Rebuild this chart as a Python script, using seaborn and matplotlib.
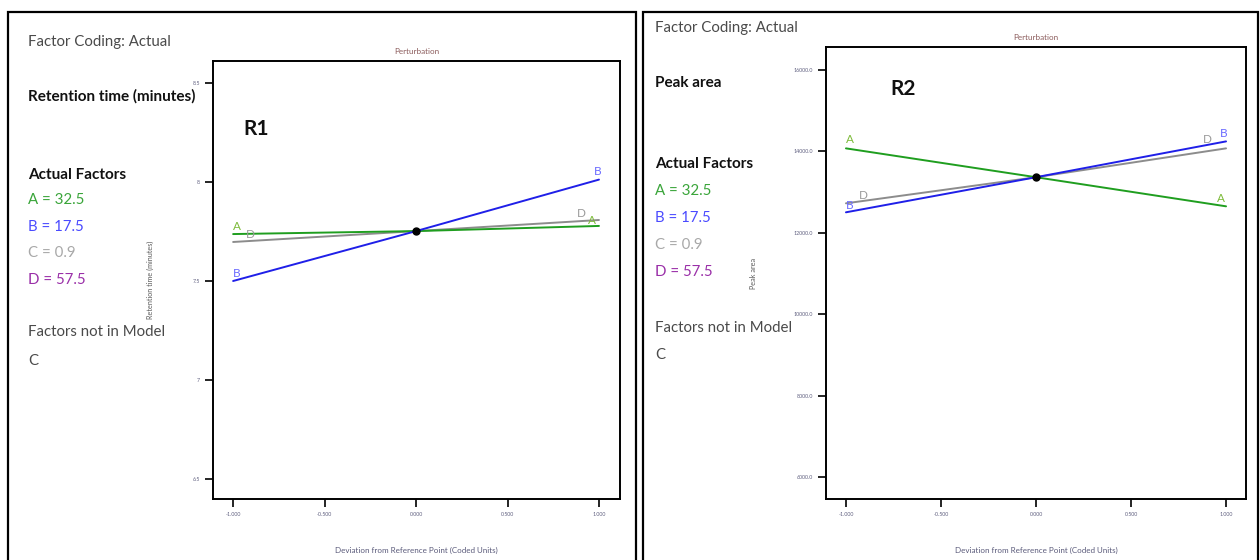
import matplotlib
matplotlib.use("Agg")
import matplotlib.pyplot as plt
import seaborn as sns
import pandas as pd
from matplotlib.patches import Rectangle

# ---- data ----
x_dev = [-1.0, 0.0, 1.0]
r1_A = [7.737, 7.752, 7.778]
r1_B = [7.500, 7.752, 8.012]
r1_D = [7.697, 7.752, 7.808]
r2_A = [14074, 13365, 12650]
r2_B = [12503, 13365, 14245]
r2_D = [12724, 13365, 14074]
xticks = [-1.0, -0.5, 0.0, 0.5, 1.0]
xticklabels = ["-1.000", "-0.500", "0.000", "0.500", "1.000"]
r1_yticks = [6.5, 7.0, 7.5, 8.0, 8.5]
r1_yticklabels = ["6.5", "7", "7.5", "8", "8.5"]
r2_yticks = [6000, 8000, 10000, 12000, 14000, 16000]
r2_yticklabels = ["6000.0", "8000.0", "10000.0", "12000.0", "14000.0", "16000.0"]
factor_labels = ["A = 32.5", "B = 17.5", "C = 0.9", "D = 57.5"]

sns.set_theme(style="white")
plt.rcParams['font.family'] = ['Lato', 'DejaVu Sans']

W, H = 1260, 560
fig = plt.figure(figsize=(12.6, 5.6), dpi=100)

def fx(x): return x / W
def fy(y): return 1 - y / H

# panel borders
for (x0, x1) in [(8, 636), (643, 1258)]:
    fig.patches.append(Rectangle((fx(x0), fy(575)), fx(x1 - x0), (575 - 12) / H,
                                 transform=fig.transFigure, fill=False,
                                 edgecolor="black", lw=1.6))

line_col = {"A": "#1f9e1f", "B": "#1f1fe8", "D": "#8c8c8c"}
lab_col = {"A": "#7dbb3a", "B": "#6a6aff", "D": "#9a9a9a"}
legend_cols = ["#3aa53a", "#4a4aff", "#a8a8a8", "#9a2fa8"]
txt_col = "#4a4a4a"

def make_panel(ax_box, xlim, ylim, A, B, D, yticks, yticklabels, ylabel,
               ylabelpad, side_texts, tag, tag_xy, lbls):
    l, t, r, b = ax_box
    ax = fig.add_axes([fx(l), fy(b), fx(r - l), (b - t) / H])
    df = pd.DataFrame({"x": x_dev * 3, "y": D + A + B,
                       "f": ["D"] * 3 + ["A"] * 3 + ["B"] * 3})
    sns.lineplot(data=df, x="x", y="y", hue="f", palette=line_col, ax=ax,
                 legend=False, lw=1.4, sort=False)
    ax.plot([0], [A[1]], marker="o", color="black", ms=5, zorder=5)
    ax.set_xlim(*xlim)
    ax.set_ylim(*ylim)
    ax.set_xticks(xticks)
    ax.set_xticklabels(xticklabels)
    ax.set_yticks(yticks)
    ax.set_yticklabels(yticklabels)
    ax.tick_params(axis="both", labelsize=3.8, length=6, width=1.2,
                   colors="black", labelcolor="#606080", direction="out",
                   bottom=True, left=True)
    for s in ax.spines.values():
        s.set_color("black"); s.set_linewidth(1.4)
    ax.set_xlabel("Deviation from Reference Point (Coded Units)", fontsize=5.8,
                  color="#5a5a7a", labelpad=21)
    ax.set_ylabel(ylabel, fontsize=5.2, color="#5a5a5a", labelpad=ylabelpad)
    ax.set_title("Perturbation", fontsize=5.8, color="#8a5a5a", pad=5)
    for (txt, xv, yv, c, ha, va) in lbls:
        ax.text(xv, yv, txt, color=lab_col[c], fontsize=8.5, ha=ha, va=va)
    fig.text(fx(tag_xy[0]), fy(tag_xy[1]), tag, fontsize=15, fontweight="bold",
             color="#111111", ha="left", va="center")
    for (txt, xx, yy, c, bold) in side_texts:
        fig.text(fx(xx), fy(yy), txt, fontsize=11 if bold else 10.8, color=c,
                 fontweight="bold" if bold else "normal", ha="left", va="center")
    return ax

side1 = [("Factor Coding: Actual", 28, 42, txt_col, False),
         ("Retention time (minutes)", 28, 96, "#111111", True),
         ("Actual Factors", 28, 175, "#111111", True)]
for i, (lab, yy) in enumerate(zip(factor_labels, [200, 227, 253, 280])):
    side1.append((lab, 28, yy, legend_cols[i], False))
side1 += [("Factors not in Model", 28, 332, txt_col, False), ("C", 28, 361, txt_col, False)]

lbl1 = [("A", -1.0, 7.745, "A", "left", "bottom"),
        ("D", -0.93, 7.705, "D", "left", "bottom"),
        ("B", -1.0, 7.51, "B", "left", "bottom"),
        ("B", 0.97, 8.025, "B", "left", "bottom"),
        ("D", 0.88, 7.815, "D", "left", "bottom"),
        ("A", 0.94, 7.78, "A", "left", "bottom")]
make_panel((213, 61, 620, 499), (-1.11, 1.115), (6.399, 8.611), r1_A, r1_B, r1_D,
           r1_yticks, r1_yticklabels, "Retention time (minutes)", 28, side1,
           "R1", (243, 129), lbl1)

side2 = [("Factor Coding: Actual", 655, 28, txt_col, False),
         ("Peak area", 655, 83, "#111111", True),
         ("Actual Factors", 655, 164, "#111111", True)]
for i, (lab, yy) in enumerate(zip(factor_labels, [191, 218, 245, 272])):
    side2.append((lab, 655, yy, legend_cols[i], False))
side2 += [("Factors not in Model", 655, 328, txt_col, False), ("C", 655, 355, txt_col, False)]

lbl2 = [("A", -1.0, 14150, "A", "left", "bottom"),
        ("D", -0.93, 12780, "D", "left", "bottom"),
        ("B", -1.0, 12540, "B", "left", "bottom"),
        ("B", 0.97, 14300, "B", "left", "bottom"),
        ("D", 0.88, 14150, "D", "left", "bottom"),
        ("A", 0.95, 12700, "A", "left", "bottom")]
make_panel((826, 47, 1246, 499), (-1.105, 1.105), (5460, 16564), r2_A, r2_B, r2_D,
           r2_yticks, r2_yticklabels, "Peak area", 26, side2,
           "R2", (890, 89), lbl2)

fig.savefig("out.png", dpi=100)
